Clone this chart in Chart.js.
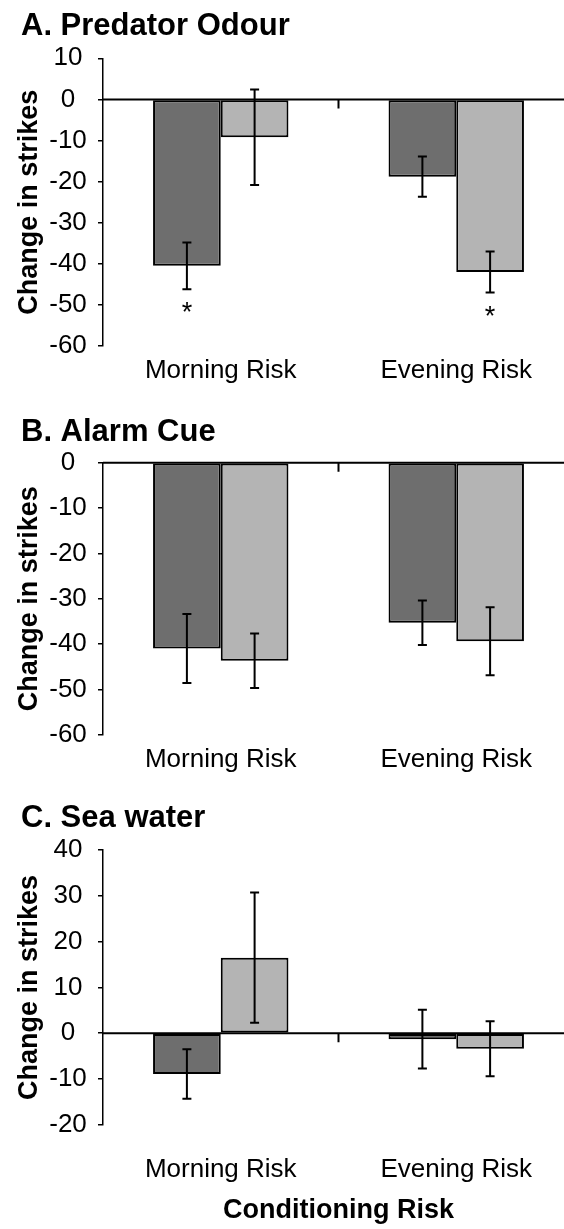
<!DOCTYPE html>
<html><head><meta charset="utf-8">
<script src="https://cdn.jsdelivr.net/npm/chart.js@4.4.0/dist/chart.umd.min.js"></script>
<style>
html,body{margin:0;padding:0;background:#fff;overflow:hidden;width:564px;height:1229px;}
canvas{position:absolute;left:0;}
</style></head><body>
<canvas id="cA" width="574" height="396" style="top:0px"></canvas>
<canvas id="cB" width="574" height="396" style="top:390px"></canvas>
<canvas id="cC" width="574" height="449" style="top:780px"></canvas>
<script>
const categories = ['Morning Risk', 'Evening Risk'];
const seriesNames = ['Series 1', 'Series 2'];

// A. Predator Odour
const predDark = [-40.5, -18.8];
const predDarkErr = [5.7, 4.9];
const predLight = [-9.2, -42.0];
const predLightErr = [11.6, 5.0];
const predDarkSig = ['*', ''];
const predLightSig = ['', '*'];

// B. Alarm Cue
const alarmDark = [-41.0, -35.3];
const alarmDarkErr = [7.6, 4.9];
const alarmLight = [-43.7, -39.4];
const alarmLightErr = [6.0, 7.5];

// C. Sea water
const seaDark = [-8.9, -1.3];
const seaDarkErr = [5.4, 6.4];
const seaLight = [16.5, -3.4];
const seaLightErr = [14.2, 6.0];

const yTicksA = {min: -60, max: 10, step: 10};
const yTicksB = {min: -60, max: 0, step: 10};
const yTicksC = {min: -20, max: 40, step: 10};

const FONT = '"Liberation Sans", Arial, sans-serif';
const DARK = '#6e6e6e';
const LIGHT = '#b4b4b4';

const decorPlugin = {
  id: 'decor',
  afterDatasetsDraw(chart) {
    const ctx = chart.ctx;
    const xs = chart.scales.x, ys = chart.scales.y;
    const area = chart.chartArea;
    ctx.save();
    chart.data.datasets.forEach((ds, i) => {
      const meta = chart.getDatasetMeta(i);
      meta.data.forEach((el, j) => {
        const v = ds.data[j], e = ds.err[j];
        const yT = ys.getPixelForValue(v + e);
        const yB = ys.getPixelForValue(v - e);
        const x = el.x;
        ctx.strokeStyle = '#000';
        ctx.lineWidth = 2;
        ctx.beginPath();
        ctx.moveTo(x, yT); ctx.lineTo(x, yB);
        ctx.moveTo(x - 4.5, yT); ctx.lineTo(x + 4.5, yT);
        ctx.moveTo(x - 4.5, yB); ctx.lineTo(x + 4.5, yB);
        ctx.stroke();
        if (ds.sig && ds.sig[j]) {
          ctx.fillStyle = '#000';
          ctx.font = '27px ' + FONT;
          ctx.textAlign = 'center';
          ctx.textBaseline = 'alphabetic';
          ctx.fillText(ds.sig[j], x, yB + 32);
        }
      });
    });
    const y0 = ys.getPixelForValue(0);
    ctx.strokeStyle = '#000';
    ctx.lineWidth = 2;
    ctx.beginPath();
    ctx.moveTo(area.left, y0); ctx.lineTo(area.right + 10, y0);
    const xb = (xs.getPixelForValue(0) + xs.getPixelForValue(1)) / 2;
    ctx.moveTo(xb, y0); ctx.lineTo(xb, y0 + 9);
    ctx.stroke();
    ctx.restore();
  }
};

function makePanel(id, title, dark, darkErr, light, lightErr, darkSig, lightSig, yT, cfg) {
  const xScale = {
    type: 'category',
    offset: true,
    grid: {display: false, drawTicks: false},
    border: {display: false},
    ticks: {color: '#000', font: {family: FONT, size: 26}, padding: cfg.xPad, maxRotation: 0, autoSkip: false},
  };
  if (cfg.xTitle) {
    xScale.title = {display: true, text: cfg.xTitle, color: '#000',
      font: {family: FONT, size: 27, weight: 'bold'}, padding: {top: cfg.xTitlePadTop, bottom: 0}};
  }
  return new Chart(document.getElementById(id), {
    type: 'bar',
    data: {
      labels: categories,
      datasets: [
        {label: seriesNames[0], data: dark, err: darkErr, sig: darkSig, backgroundColor: DARK,
         borderColor: '#000', borderWidth: 2, borderSkipped: false},
        {label: seriesNames[1], data: light, err: lightErr, sig: lightSig, backgroundColor: LIGHT,
         borderColor: '#000', borderWidth: 2, borderSkipped: false}
      ]
    },
    options: {
      responsive: false,
      animation: false,
      devicePixelRatio: 1,
      datasets: {bar: {barPercentage: 1, categoryPercentage: 0.575}},
      layout: {padding: {left: 21, right: 0, top: 0, bottom: cfg.padBottom}},
      plugins: {
        legend: {display: false},
        tooltip: {enabled: false},
        title: {display: true, text: title, align: 'start', color: '#000',
          font: {family: FONT, size: 31, weight: 'bold', lineHeight: 1.2},
          padding: {top: cfg.titleTop, bottom: cfg.titleBottom}}
      },
      scales: {
        x: xScale,
        y: {
          min: yT.min, max: yT.max,
          ticks: {stepSize: yT.step, color: '#000', font: {family: FONT, size: 26},
            crossAlign: 'center', padding: 11.2},
          grid: {display: true, drawOnChartArea: false, drawTicks: true, tickLength: 5,
            color: '#000', lineWidth: 1.5},
          border: {display: true, color: '#000', width: 1.5},
          title: {display: true, text: 'Change in strikes', color: '#000',
            font: {family: FONT, size: 27, weight: 'bold', lineHeight: 0.6}, padding: 0},
          afterFit(scale) { scale.width = 82; }
        }
      }
    },
    plugins: [decorPlugin]
  });
}

makePanel('cA', 'A. Predator Odour', predDark, predDarkErr, predLight, predLightErr,
  predDarkSig, predLightSig, yTicksA,
  {titleTop: 7.4, titleBottom: 13.7, xPad: 9, padBottom: 0.8});
makePanel('cB', 'B. Alarm Cue', alarmDark, alarmDarkErr, alarmLight, alarmLightErr,
  null, null, yTicksB,
  {titleTop: 23.4, titleBottom: 12.1, xPad: 9.3, padBottom: 1.5});
makePanel('cC', 'C. Sea water', seaDark, seaDarkErr, seaLight, seaLightErr,
  null, null, yTicksC,
  {titleTop: 19.4, titleBottom: 13.4, xPad: 29, padBottom: 2.4,
   xTitle: 'Conditioning Risk', xTitlePadTop: -19.8});
</script>
</body></html>
